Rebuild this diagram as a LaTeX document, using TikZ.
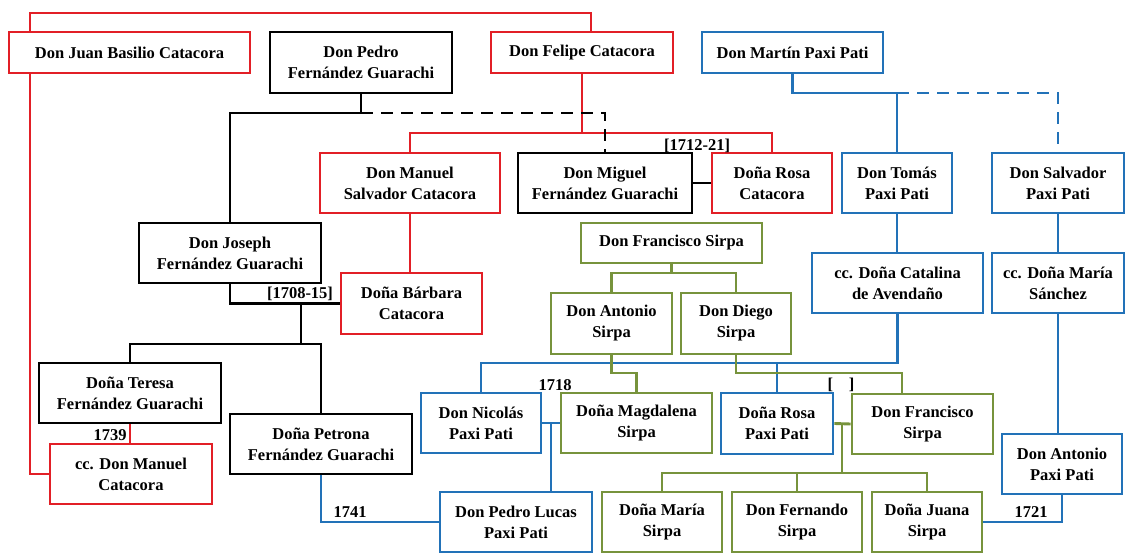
\documentclass[tikz,border=0pt]{standalone}
\usepackage{fontspec}
\setmainfont{Liberation Serif}
\usepackage{xcolor}
\usepackage{tikz}
\usetikzlibrary{backgrounds}
\definecolor{cred}{HTML}{E21F26}
\definecolor{cblue}{HTML}{2272B8}
\definecolor{cgreen}{HTML}{77933C}
\tikzset{box/.style={rectangle,draw,fill=white,line width=2.9pt,inner sep=0pt,align=center,font=\fontsize{16.5}{21}\selectfont\bfseries},
  rbox/.style={box,draw=cred},
  kbox/.style={box,draw=black},
  bbox/.style={box,draw=cblue},
  gbox/.style={box,draw=cgreen},
  rline/.style={cred,line width=2.9pt},
  kline/.style={black,line width=2.9pt},
  bline/.style={cblue,line width=2.9pt},
  gline/.style={cgreen,line width=2.9pt},
  yr/.style={inner sep=0pt,font=\fontsize{16.5}{21}\selectfont\bfseries}}

\begin{document}
\begin{tikzpicture}[x=1pt,y=-1pt]
    \useasboundingbox (0,0) rectangle (1125,554);

    \node[rbox,minimum width=241pt,minimum height=41pt] (jb) at (129.5,52.5) {Don Juan Basilio Catacora};
    \node[kbox,minimum width=182pt,minimum height=61pt] (ped) at (361,62.5) {Don Pedro\\Fernández Guarachi};
    \node[rbox,minimum width=182pt,minimum height=41pt] (fel) at (582,52.5) {Don Felipe Catacora};
    \node[bbox,minimum width=181pt,minimum height=41pt] (mar) at (792.5,52.5) {Don Martín Paxi Pati};
    \node[rbox,minimum width=180pt,minimum height=60pt] (man) at (410,183) {Don Manuel\\Salvador Catacora};
    \node[kbox,minimum width=174pt,minimum height=60pt] (mig) at (605,183) {Don Miguel\\Fernández Guarachi};
    \node[rbox,minimum width=120pt,minimum height=60pt] (rc) at (772,183) {Doña Rosa\\Catacora};
    \node[bbox,minimum width=110pt,minimum height=60pt] (tom) at (897,183) {Don Tomás\\Paxi Pati};
    \node[bbox,minimum width=132pt,minimum height=60pt] (sal) at (1058,183) {Don Salvador\\Paxi Pati};
    \node[kbox,minimum width=182pt,minimum height=60pt] (jos) at (230,253) {Don Joseph\\Fernández Guarachi};
    \node[gbox,minimum width=181pt,minimum height=40pt] (fs) at (671.5,243) {Don Francisco Sirpa};
    \node[bbox,minimum width=171pt,minimum height=60pt] (cat) at (897.5,283) {cc. Doña Catalina\\de Avendaño};
    \node[bbox,minimum width=132pt,minimum height=60pt] (san) at (1058,283) {cc. Doña María\\Sánchez};
    \node[rbox,minimum width=141pt,minimum height=61pt] (bar) at (411.5,303.5) {Doña Bárbara\\Catacora};
    \node[gbox,minimum width=121pt,minimum height=61pt] (as) at (611.5,323.5) {Don Antonio\\Sirpa};
    \node[gbox,minimum width=110pt,minimum height=61pt] (ds) at (736,323.5) {Don Diego\\Sirpa};
    \node[kbox,minimum width=182pt,minimum height=60pt] (ter) at (130,393) {Doña Teresa\\Fernández Guarachi};
    \node[bbox,minimum width=120pt,minimum height=60pt] (nic) at (481,423) {Don Nicolás\\Paxi Pati};
    \node[gbox,minimum width=151pt,minimum height=60pt] (mag) at (636.5,423) {Doña Magdalena\\Sirpa};
    \node[bbox,minimum width=112pt,minimum height=61pt] (ros) at (777,423.5) {Doña Rosa\\Paxi Pati};
    \node[gbox,minimum width=141pt,minimum height=60pt] (fra) at (922.5,424) {Don Francisco\\Sirpa};
    \node[kbox,minimum width=182pt,minimum height=60pt] (pet) at (321,444) {Doña Petrona\\Fernández Guarachi};
    \node[rbox,minimum width=162pt,minimum height=60pt] (ccm) at (131,474) {cc. Don Manuel\\Catacora};
    \node[bbox,minimum width=120pt,minimum height=60pt] (ant) at (1062,464) {Don Antonio\\Paxi Pati};
    \node[bbox,minimum width=152pt,minimum height=60pt] (plu) at (516,522) {Don Pedro Lucas\\Paxi Pati};
    \node[gbox,minimum width=120pt,minimum height=60pt] (mas) at (662,522) {Doña María\\Sirpa};
    \node[gbox,minimum width=130pt,minimum height=60pt] (fer) at (797,522) {Don Fernando\\Sirpa};
    \node[gbox,minimum width=110pt,minimum height=60pt] (jua) at (927,522) {Doña Juana\\Sirpa};

    \coordinate (ft) at (591,32);
    \coordinate (rbar) at (0,133);
    \coordinate (kbar) at (0,113);
    \coordinate (jm) at (301,304);
    \coordinate (kbar2) at (0,344);
    \coordinate (bbar) at (0,93);
    \coordinate (bbar2) at (0,363);
    \coordinate (nm) at (551,423);
    \coordinate (gbar) at (0,273);
    \coordinate (gbar2) at (0,373);
    \coordinate (fratop) at (902,394);
    \coordinate (rf) at (842,424);
    \coordinate (gbar3) at (0,473);

    \begin{scope}[on background layer]
    \draw [rline] (ccm.west) -| (30,13) -| (ft);
    \draw [rline] (fel.south) -- (fel.south |- rbar);
    \draw [rline] (man.north) -- (man.north |- rbar) -| (rc.north);
    \draw [rline] (man.south) -- (man.south |- bar.north);
    \draw [rline] (ter.south) -- (ter.south |- ccm.north);

    \draw [kline] (ped.south) -- (ped.south |- kbar) -| (jos.north);
    \draw [kline,dash pattern=on 12pt off 8pt] (ped.south |- kbar) -| (mig.north);
    \draw [kline] (mig.east) -- (rc.west);
    \draw [kline] (jos.south) |- (bar.west);
    \draw [kline] (jm) -- (jm |- kbar2);
    \draw [kline] (ter.north) -- (ter.north |- kbar2) -| (pet.north);

    \draw [bline] (mar.south) -- (mar.south |- bbar) -| (tom.north);
    \draw [bline,dash pattern=on 12pt off 8pt] (tom.north |- bbar) -| (sal.north);
    \draw [bline] (tom.south) -- (tom.south |- cat.north);
    \draw [bline] (sal.south) -- (sal.south |- san.north);
    \draw [bline] (san.south) -- (san.south |- ant.north);
    \draw [bline] (ant.south) |- (jua.east);
    \draw [bline] (cat.south) -- (cat.south |- bbar2) -| (nic.north);
    \draw [bline] (ros.north) -- (ros.north |- bbar2);
    \draw [bline] (nic.east) -- (mag.west);
    \draw [bline] (nm) -- (nm |- plu.north);
    \draw [bline] (pet.south) |- (plu.west);

    \draw [gline] (fs.south) -- (fs.south |- gbar);
    \draw [gline] (as.north) -- (as.north |- gbar) -| (ds.north);
    \draw [gline] (as.south) -- (as.south |- gbar2) -| (mag.north);
    \draw [gline] (ds.south) -- (ds.south |- gbar2) -| (fratop);
    \draw [gline] (ros.east) -- (fra.west);
    \draw [gline] (rf) -- (rf |- gbar3);
    \draw [gline] (mas.north) -- (mas.north |- gbar3) -| (jua.north);
    \draw [gline] (fer.north) -- (fer.north |- gbar3);
    \end{scope}

    \node[yr] (y1) at (697,146) {[1712-21]};
    \node[yr] (y2) at (300,294) {[1708-15]};
    \node[yr] (y3) at (110,435) {1739};
    \node[yr] (y4) at (350,512) {1741};
    \node[yr] (y5) at (555,385) {1718};
    \node[yr] (y6) at (841,385) {[\hspace{16pt}]};
    \node[yr] (y7) at (1031,512) {1721};
\end{tikzpicture}
\end{document}
